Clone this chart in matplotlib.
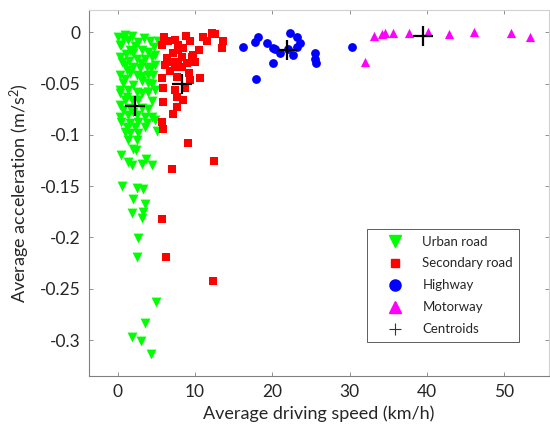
import matplotlib
matplotlib.use("Agg")
import matplotlib.pyplot as plt
from matplotlib.lines import Line2D

plt.rcParams['font.family'] = ['Lato', 'DejaVu Sans']
plt.rcParams['mathtext.fontset'] = 'custom'
plt.rcParams['mathtext.rm'] = 'Lato'
plt.rcParams['mathtext.it'] = 'Lato:italic'
plt.rcParams['axes.unicode_minus'] = False

# urban road
urban_x = [0.08, 0.73, 1.37, 2.67, 4.18, 5.17, 0.3, 1.59, 3.1, 3.96,
           0.3, 0.52, 2.46, 3.53, 4.4, 0.94, 2.02, 2.88, 3.75, 4.83,
           0.3, 1.59, 2.46, 3.96, 4.6, 0.73, 2.02, 3.1, 3.96,
           0.3, 1.37, 3.1, 3.96, 4.83,
           1.0, 1.9, 3.4, 0.5, 2.2, 4.7, 1.1, 2.0, 4.9, 1.5, 3.0, 1.2, 4.3,
           1.0, 3.2, 2.5, 4.5, 0.9, 2.7, 4.4, 2.0, 3.9, 1.0,
           0.3, 1.16, 1.8, 3.96, 0.3, 0.73, 1.59, 3.1,
           0.3, 1.37, 2.46, 3.53, 4.4, 0.43, 1.59, 2.67, 3.75, 4.83,
           1.16, 2.24, 3.53, 5.05, 1.59, 2.67, 1.37, 2.46, 2.02,
           0.44, 2.4, 1.4, 1.8, 3.1, 3.66, 4.5,
           0.52, 2.46, 3.3, 2.0, 3.6, 1.8, 3.3, 3.1, 2.7, 2.46,
           5.0, 3.5, 1.8, 3.0, 4.3]
urban_y = [-0.0043, -0.0053, -0.0075, -0.0098, -0.0085, -0.0085, -0.0124, -0.0173, -0.0173, -0.019,
           -0.0238, -0.0287, -0.0256, -0.0256, -0.0238, -0.0319, -0.0335, -0.035, -0.0335, -0.0319,
           -0.0416, -0.040, -0.0416, -0.0416, -0.0416, -0.0497, -0.0514, -0.048, -0.0497,
           -0.0562, -0.0562, -0.0595, -0.0579, -0.0562,
           -0.003, -0.004, -0.006, -0.012, -0.013, -0.014, -0.021, -0.020, -0.022, -0.028, -0.030, -0.037, -0.035,
           -0.046, -0.043, -0.058, -0.050, -0.066, -0.066, -0.067, -0.078, -0.075, -0.097,
           -0.0595, -0.0628, -0.066, -0.058, -0.0709, -0.0757, -0.074, -0.074,
           -0.0823, -0.0806, -0.0806, -0.0823, -0.0823, -0.0871, -0.0887, -0.0871, -0.0887, -0.0855,
           -0.092, -0.092, -0.092, -0.0959, -0.0984, -0.0984, -0.105, -0.105, -0.114,
           -0.12, -0.115, -0.126, -0.129, -0.128, -0.124, -0.129,
           -0.150, -0.152, -0.153, -0.163, -0.167, -0.176, -0.175, -0.181, -0.201, -0.219,
           -0.263, -0.283, -0.297, -0.301, -0.314]

# secondary road
second_x = [6.55, 7.41, 7.84, 9.35, 11.07, 12.16, 12.6, 11.5, 13.66, 13.45,
            9.78, 10.0, 7.2, 7.84, 8.28, 6.34, 6.98, 7.84, 6.12, 7.41, 8.92, 9.57,
            5.8, 8.5, 6.8, 8.3, 9.2, 10.5, 6.0, 8.9,
            10.65, 5.69, 7.63, 9.35,
            5.9, 7.41, 8.71, 7.63, 8.49, 5.9, 7.63, 7.2,
            5.7, 5.9, 9.13, 12.46, 7.0, 5.7, 6.3, 12.4]
second_y = [-0.009, -0.0075, -0.0124, -0.0085, -0.0043, -0.001, -0.002, -0.009, -0.009, -0.0156,
            -0.022, -0.0287, -0.0205, -0.0173, -0.0238, -0.0254, -0.0287, -0.0287, -0.0319, -0.0335, -0.0302, -0.0238,
            -0.012, -0.015, -0.038, -0.034, -0.040, -0.017, -0.005, -0.004,
            -0.0449, -0.0449, -0.0432, -0.0465,
            -0.0546, -0.0562, -0.0546, -0.0628, -0.066, -0.0676, -0.0725, -0.080,
            -0.087, -0.094, -0.1076, -0.125, -0.133, -0.182, -0.219, -0.242]

# highway
highway_x = [16.17, 17.76, 18.2, 19.27, 20.05, 20.13, 21.0, 22.3, 23.2, 23.6,
             23.15, 22.7, 25.5, 25.5, 25.7, 17.9, 30.3, 20.35, 22.0]
highway_y = [-0.014, -0.0092, -0.0049, -0.0101, -0.0156, -0.0296, -0.0205, -0.0004, -0.0043, -0.0101,
             -0.014, -0.022, -0.0205, -0.026, -0.030, -0.046, -0.0146, -0.0166, -0.016]

# motorway
motor_x = [33.2, 34.15, 34.6, 35.65, 37.7, 40.1, 42.9, 46.1, 50.9, 53.4, 32.0]
motor_y = [-0.0036, -0.002, -0.0004, -0.001, -0.001, 0.0006, -0.002, 0.0003, -0.001, -0.0043, -0.0287]

centroid_x = [2.24, 8.28, 21.86, 39.5]
centroid_y = [-0.072, -0.0507, -0.0173, -0.0036]

xticks = [0, 10, 20, 30, 40, 50]
yticks = [0, -0.05, -0.1, -0.15, -0.2, -0.25, -0.3]
ytick_labels = ['0', '-0.05', '-0.1', '-0.15', '-0.2', '-0.25', '-0.3']

fig = plt.figure(figsize=(5.5, 4.3), dpi=100)
ax = fig.add_axes([0.1618, 0.1256, 0.8364, 0.8512])

ax.scatter(urban_x, urban_y, marker='v', s=50, color='#00ff00', linewidths=0)
ax.scatter(second_x, second_y, marker='s', s=27, color='#ff0000', linewidths=0)
ax.scatter(highway_x, highway_y, marker='o', s=40, color='#0000ff', linewidths=0)
ax.scatter(motor_x, motor_y, marker='^', s=44, color='#ff00ff', linewidths=0)
ax.plot(centroid_x, centroid_y, '+', color='k', markersize=14, markeredgewidth=1.6, linestyle='none')

ax.set_xlim(-3.7, 55.8)
ax.set_ylim(-0.335, 0.0217)
ax.set_xticks(xticks)
ax.set_yticks(yticks)
ax.set_yticklabels(ytick_labels)

ax.tick_params(direction='in', length=3, width=0.6, color='#808080',
               labelsize=12.5, labelcolor='#262626', top=True, right=True, pad=6)
for side in ['left', 'bottom']:
    ax.spines[side].set_color('#808080')
    ax.spines[side].set_linewidth(0.8)
for side in ['top', 'right']:
    ax.spines[side].set_color('#d0d0d0')
    ax.spines[side].set_linewidth(0.8)

ax.set_xlabel('Average driving speed (km/h)', fontsize=13, color='#262626', labelpad=4)
ax.set_ylabel('Average acceleration (m/s$^{2}$)', fontsize=13, color='#262626', labelpad=6)

handles = [
    Line2D([], [], marker='v', color='#00ff00', markersize=9, linestyle='none'),
    Line2D([], [], marker='s', color='#ff0000', markersize=6, linestyle='none'),
    Line2D([], [], marker='o', color='#0000ff', markersize=8, linestyle='none'),
    Line2D([], [], marker='^', color='#ff00ff', markersize=9, linestyle='none'),
    Line2D([], [], marker='+', color='#333333', markersize=9, markeredgewidth=0.8, linestyle='none'),
]
labels = ['Urban road', 'Secondary road', 'Highway', 'Motorway', 'Centroids']
leg = ax.legend(handles, labels, loc='upper left', bbox_to_anchor=(0.604, 0.4016),
                fontsize=9.5, frameon=True, fancybox=False, borderpad=0.5,
                labelspacing=0.75, handletextpad=0.4, handlelength=3.3,
                borderaxespad=0)
leg.get_frame().set_edgecolor('#333333')
leg.get_frame().set_linewidth(0.7)
for t in leg.get_texts():
    t.set_color('#262626')

fig.savefig('out.png', dpi=100)
